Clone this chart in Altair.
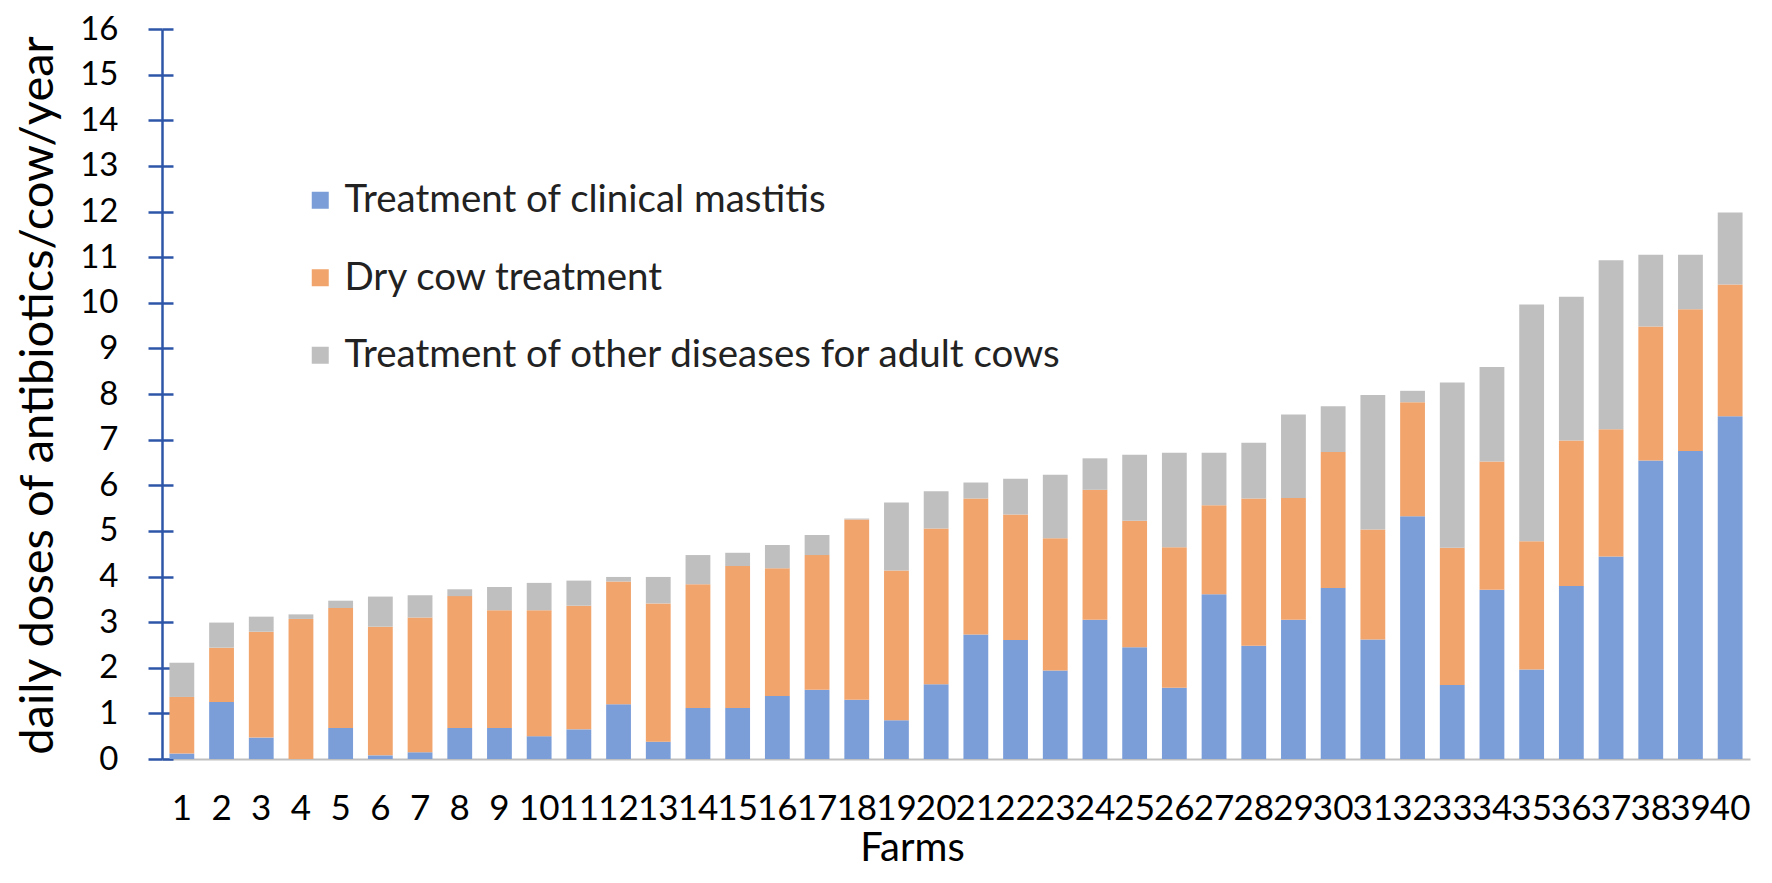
import altair as alt
import pandas as pd

farms = [str(i) for i in range(1, 41)]
categories = [
    "Treatment of clinical mastitis",
    "Dry cow treatment",
    "Treatment of other diseases for adult cows",
]
colors = ["#7B9ED9", "#F1A46C", "#BFBFBF"]

clinical = [0.12, 1.25, 0.47, 0.00, 0.68, 0.08, 0.15, 0.68, 0.68, 0.50,
            0.65, 1.20, 0.38, 1.12, 1.12, 1.38, 1.52, 1.30, 0.85, 1.64,
            2.73, 2.61, 1.94, 3.05, 2.45, 1.56, 3.61, 2.48, 3.05, 3.75,
            2.62, 5.32, 1.62, 3.71, 1.96, 3.79, 4.44, 6.54, 6.75, 7.51]
dry = [1.24, 1.19, 2.32, 3.07, 2.63, 2.82, 2.95, 2.89, 2.58, 2.76,
       2.71, 2.69, 3.03, 2.71, 3.11, 2.80, 2.95, 3.95, 3.28, 3.41,
       2.98, 2.75, 2.90, 2.85, 2.77, 3.08, 1.95, 3.23, 2.67, 2.98,
       2.41, 2.50, 3.01, 2.81, 2.81, 3.19, 2.79, 2.94, 3.11, 2.89]
other = [0.75, 0.55, 0.33, 0.10, 0.16, 0.66, 0.49, 0.15, 0.51, 0.60,
         0.55, 0.10, 0.58, 0.64, 0.29, 0.51, 0.44, 0.02, 1.49, 0.82,
         0.35, 0.78, 1.39, 0.69, 1.45, 2.07, 1.15, 1.22, 1.83, 1.00,
         2.95, 0.25, 3.62, 2.07, 5.19, 3.15, 3.70, 1.57, 1.19, 1.58]
y_ticks = list(range(0, 17))

rows = []
for i, f in enumerate(farms):
    for k, (cat, vals) in enumerate(zip(categories, [clinical, dry, other])):
        rows.append({"farm": f, "category": cat, "value": vals[i], "order": k})
df = pd.DataFrame(rows)

FONT = "Lato"
AXIS_BLUE = "#2E56A8"
y_scale = alt.Scale(domain=[0, 16], nice=False, zero=True)

bars = alt.Chart(df).mark_bar().encode(
    x=alt.X(
        "farm:N", sort=farms,
        scale=alt.Scale(paddingInner=0.375, paddingOuter=0.1875),
        axis=alt.Axis(
            title="Farms", labelAngle=0, labelFontSize=35, labelFont=FONT,
            labelColor="#000000", labelPadding=49, labelBaseline="middle",
            labelOverlap=False, ticks=False, tickSize=0,
            domainColor="#BFBFBF", domainWidth=2,
            titleFont=FONT, titleFontSize=40, titleFontWeight="normal",
            titleColor="#000000", titleX=750, titleY=89,
            titleBaseline="middle", titleAlign="center",
        ),
    ),
    y=alt.Y(
        "value:Q", stack="zero", scale=y_scale,
        axis=alt.Axis(
            title="daily doses of antibiotics/cow/year", values=y_ticks,
            grid=False, domainColor=AXIS_BLUE, domainWidth=2.5,
            tickColor=AXIS_BLUE, tickWidth=2.5, tickSize=14,
            labelFont=FONT, labelFontSize=33, labelColor="#000000",
            labelPadding=30,
            titleFont=FONT, titleFontSize=47, titleFontWeight="normal",
            titleColor="#000000", titleX=-124, titleY=366,
            titleAngle=-90, titleAlign="center", titleBaseline="middle",
        ),
    ),
    color=alt.Color(
        "category:N",
        scale=alt.Scale(domain=categories, range=colors),
        legend=alt.Legend(
            title=None, orient="none", legendX=139, legendY=152,
            symbolType="square", symbolSize=289, symbolStrokeWidth=0,
            symbolOpacity=1, labelFont=FONT, labelFontSize=38.5,
            labelColor="#222222", labelLimit=1000, labelOffset=5,
            rowPadding=38.5,
        ),
    ),
    order=alt.Order("order:Q", sort="ascending"),
)

inner_ticks = alt.Chart(pd.DataFrame({"tick": y_ticks})).mark_point(opacity=0).encode(
    y=alt.Y(
        "tick:Q", scale=y_scale,
        axis=alt.Axis(
            orient="left", offset=-11, values=y_ticks, labels=False,
            domain=False, grid=False, title=None,
            tickColor=AXIS_BLUE, tickWidth=2.5, tickSize=11,
        ),
    ),
)

chart = alt.layer(bars, inner_ticks).resolve_scale(y="shared").resolve_axis(
    y="independent"
).properties(
    width=1588, height=730,
    padding={"left": 154, "top": 21, "right": 10, "bottom": 110},
    autosize=alt.AutoSizeParams(type="none"),
    background="white",
).configure_view(stroke=None)

chart.save("out.html", embed_options={"renderer": "svg", "actions": False})
